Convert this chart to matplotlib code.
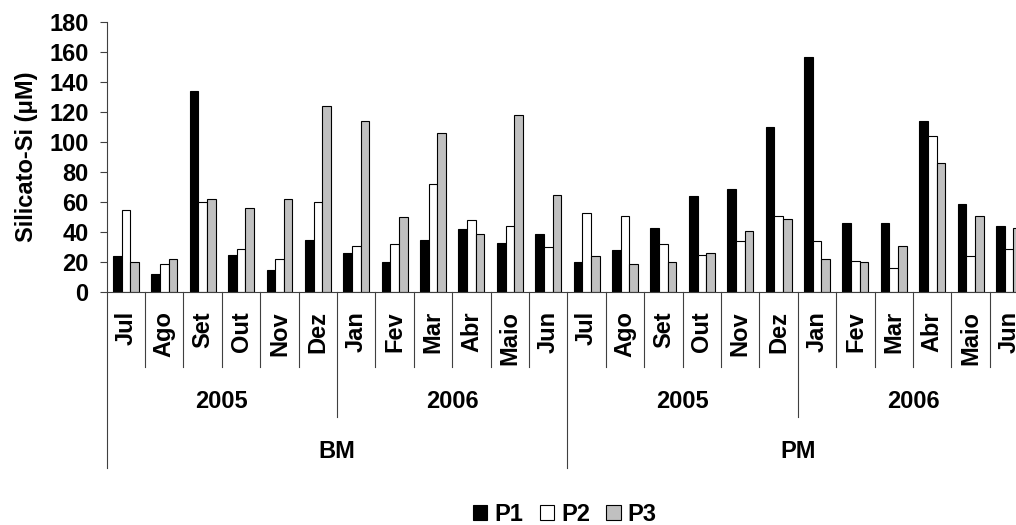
import numpy as np
import matplotlib
matplotlib.use('agg')
import matplotlib.pyplot as plt
import matplotlib.transforms as mtransforms
from matplotlib.patches import Patch

plt.rcParams['font.family'] = ['Liberation Sans', 'DejaVu Sans']
plt.rcParams['font.weight'] = 'bold'

# silicate concentrations per station, Jul/2005 - Jun/2006, BM then PM
months = ['Jul', 'Ago', 'Set', 'Out', 'Nov', 'Dez',
          'Jan', 'Fev', 'Mar', 'Abr', 'Maio', 'Jun'] * 2
years = ['2005', '2006', '2005', '2006']
sites = ['BM', 'PM']

p1 = [24, 12, 134, 25, 15, 35, 26, 20, 35, 42, 33, 39,
      20, 28, 43, 64, 69, 110, 157, 46, 46, 114, 59, 44]
p2 = [55, 19, 60, 29, 22, 60, 31, 32, 72, 48, 44, 30,
      53, 51, 32, 25, 34, 51, 34, 21, 16, 104, 24, 29]
p3 = [20, 22, 62, 56, 62, 124, 114, 50, 106, 39, 118, 65,
      24, 19, 20, 26, 41, 49, 22, 20, 31, 86, 51, 43]

fs = 17
line_col = '#404040'

fig = plt.figure(figsize=(10.16, 5.25), dpi=100)
ax = fig.add_axes([0.105, 0.4438, 0.907, 0.514])

x = np.arange(len(months))
w = 0.225
ax.bar(x - w, p1, w, color='black', edgecolor='black', linewidth=0.8, label='P1')
ax.bar(x, p2, w, color='white', edgecolor='black', linewidth=0.8, label='P2')
ax.bar(x + w, p3, w, color='#c0c0c0', edgecolor='black', linewidth=0.8, label='P3')

ax.set_xlim(-0.5, len(months) - 0.5)
ax.set_ylim(0, 180)
ax.set_yticks(np.arange(0, 181, 20))
ax.set_xticks([])
ax.tick_params(axis='y', length=5, width=0.8, color=line_col, pad=8, labelsize=fs)
for lab in ax.get_yticklabels():
    lab.set_fontweight('bold')
for s in ['top', 'right']:
    ax.spines[s].set_visible(False)
for s in ['left', 'bottom']:
    ax.spines[s].set_color(line_col)
    ax.spines[s].set_linewidth(0.8)

ax.set_ylabel('Silicato-Si (\u03bcM)', fontsize=fs, fontweight='bold', labelpad=8)

# multi-level category axis
trans = mtransforms.blended_transform_factory(ax.transData, ax.transAxes)
y_month, y_year, y_site = -0.278, -0.463, -0.652
for k in range(len(months) + 1):
    xb = k - 0.5
    if k % 12 == 0:
        yb = y_site
    elif k % 6 == 0:
        yb = y_year
    else:
        yb = y_month
    ax.plot([xb, xb], [0, yb], color=line_col, lw=0.8, transform=trans, clip_on=False)

for i, m in enumerate(months):
    ax.text(i, -0.07, m, rotation=90, ha='center', va='top', fontsize=fs,
            fontweight='bold', transform=trans)
for j, yr in enumerate(years):
    ax.text(j * 6 + 2.5, -0.406, yr, ha='center', va='center', fontsize=fs,
            fontweight='bold', transform=trans)
for j, st in enumerate(sites):
    ax.text(j * 12 + 5.5, -0.59, st, ha='center', va='center', fontsize=fs,
            fontweight='bold', transform=trans)

handles = [Patch(facecolor='black', edgecolor='black', lw=0.8),
           Patch(facecolor='white', edgecolor='black', lw=0.8),
           Patch(facecolor='#c0c0c0', edgecolor='black', lw=0.8)]
fig.legend(handles, ['P1', 'P2', 'P3'], loc='center', bbox_to_anchor=(0.556, 0.02),
           ncol=3, frameon=False, prop={'size': fs, 'weight': 'bold'},
           handlelength=0.6, handleheight=0.6, handletextpad=0.3, columnspacing=0.7)

fig.savefig('out.png', dpi=100, facecolor='white')
